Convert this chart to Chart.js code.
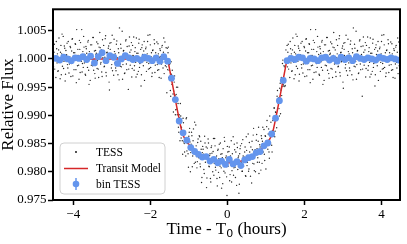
<!DOCTYPE html>
<html><head><meta charset="utf-8">
<script src="https://cdn.jsdelivr.net/npm/chart.js@4"></script>
<style>html,body{margin:0;padding:0;background:#fff}</style>
</head><body>
<canvas id="c" width="407" height="244" style="display:block;width:407px;height:244px"></canvas>
<script>
// ---- data ----
const tessTime = [
-4.50,-4.48,-4.46,-4.44,-4.42,-4.40,-4.38,-4.36,-4.34,-4.32,-4.30,-4.28,-4.26,-4.24,-4.22,-4.20,-4.18,-4.16,-4.14,-4.12,
-4.10,-4.08,-4.06,-4.04,-4.02,-4.00,-3.98,-3.96,-3.94,-3.92,-3.90,-3.88,-3.86,-3.84,-3.82,-3.80,-3.78,-3.76,-3.74,-3.72,
-3.70,-3.68,-3.66,-3.64,-3.62,-3.60,-3.58,-3.56,-3.54,-3.52,-3.50,-3.48,-3.46,-3.44,-3.42,-3.40,-3.38,-3.36,-3.34,-3.32,
-3.30,-3.28,-3.26,-3.24,-3.22,-3.20,-3.18,-3.16,-3.14,-3.12,-3.10,-3.08,-3.06,-3.04,-3.02,-3.00,-2.98,-2.96,-2.94,-2.92,
-2.90,-2.88,-2.86,-2.84,-2.82,-2.80,-2.78,-2.76,-2.74,-2.72,-2.70,-2.68,-2.66,-2.64,-2.62,-2.60,-2.58,-2.56,-2.54,-2.52,
-2.50,-2.48,-2.46,-2.44,-2.42,-2.40,-2.38,-2.36,-2.34,-2.32,-2.30,-2.28,-2.26,-2.24,-2.22,-2.20,-2.18,-2.16,-2.14,-2.12,
-2.10,-2.08,-2.06,-2.04,-2.02,-2.00,-1.98,-1.96,-1.94,-1.92,-1.90,-1.88,-1.86,-1.84,
-1.82,-1.80,-1.78,-1.76,-1.74,-1.72,-1.70,-1.68,-1.66,-1.64,-1.62,-1.60,-1.58,-1.56,
-1.54,-1.52,-1.50,-1.48,-1.46,-1.44,-1.42,-1.40,-1.38,-1.36,-1.34,-1.32,-1.30,-1.28,-1.26,-1.24,-1.22,-1.20,-1.18,-1.16,
-1.14,-1.12,-1.10,-1.08,-1.06,-1.04,-1.02,-1.00,-0.98,-0.96,-0.94,-0.92,-0.90,-0.88,-0.86,-0.84,-0.82,-0.80,-0.78,-0.76,
-0.74,-0.72,-0.70,-0.68,-0.66,-0.64,-0.62,-0.60,-0.58,-0.56,-0.54,-0.52,-0.50,-0.48,-0.46,-0.44,-0.42,-0.40,-0.38,-0.36,
-0.34,-0.32,-0.30,-0.28,-0.26,-0.24,-0.22,-0.20,-0.18,-0.16,-0.14,-0.12,-0.10,-0.08,-0.06,-0.04,-0.02,0.00,0.02,0.04,
0.06,0.08,0.10,0.12,0.14,0.16,0.18,0.20,0.22,0.24,0.26,0.28,0.30,0.32,0.34,0.36,0.38,0.40,0.42,0.44,
0.46,0.48,0.50,0.52,0.54,0.56,0.58,0.60,0.62,0.64,0.66,0.68,0.70,0.72,0.74,0.76,0.78,0.80,0.82,0.84,
0.86,0.88,0.90,0.92,0.94,0.96,0.98,1.00,1.02,1.04,1.06,1.08,1.10,1.12,1.14,1.16,1.18,1.20,1.22,1.24,
1.26,1.28,1.30,1.32,1.34,1.36,1.38,1.40,1.42,1.44,1.46,1.48,1.50,1.52,1.54,
1.56,1.58,1.60,1.62,1.64,1.66,1.68,1.70,1.72,1.74,1.76,1.78,1.80,1.82,1.84,1.86,1.88,1.90,1.92,1.94,
1.96,1.98,2.00,2.02,2.04,2.06,2.08,2.10,2.12,2.14,2.16,2.18,2.20,2.22,2.24,2.26,2.28,2.30,2.32,2.34,
2.36,2.38,2.40,2.42,2.44,2.46,2.48,2.50,2.52,2.54,2.56,2.58,2.60,2.62,2.64,2.66,2.68,2.70,2.72,2.74,
2.76,2.78,2.80,2.82,2.84,2.86,2.88,2.90,2.92,2.94,2.96,2.98,3.00,3.02,3.04,3.06,3.08,3.10,3.12,3.14,
3.16,3.18,3.20,3.22,3.24,3.26,3.28,3.30,3.32,3.34,3.36,3.38,3.40,3.42,3.44,3.46,3.48,3.50,3.52,3.54,
3.56,3.58,3.60,3.62,3.64,3.66,3.68,3.70,3.72,3.74,3.76,3.78,3.80,3.82,3.84,3.86,3.88,3.90,3.92,3.94,
3.96,3.98,4.00,4.02,4.04,4.06,4.08,4.10,4.12,4.14,4.16,4.18,4.20,4.22,4.24,4.26,4.28,
4.30,4.32,4.34,4.36,4.38,4.40,4.42,4.44,4.46,4.48
];
const tessFlux = [
1.0012,0.9982,1.0005,1.0031,0.9993,0.9978,1.0016,1.0002,0.9965,1.0024,1.0009,0.9987,1.0040,0.9996,1.0019,0.9973,1.0007,1.0028,0.9984,1.0003,
0.9991,1.0022,0.9969,1.0014,1.0036,0.9998,0.9981,1.0011,1.0026,0.9958,1.0006,1.0017,0.9989,1.0033,0.9976,1.0001,1.0052,0.9992,0.9985,1.0021,
1.0008,0.9971,1.0018,0.9995,1.0030,0.9980,1.0013,0.9962,1.0004,1.0025,0.9988,1.0038,0.9999,0.9974,1.0015,1.0010,0.9983,1.0027,0.9967,1.0006,
1.0020,0.9994,0.9977,1.0034,1.0009,0.9986,1.0003,1.0041,0.9970,1.0012,0.9997,1.0023,0.9945,1.0017,1.0029,0.9990,0.9979,1.0005,1.0035,0.9993,
0.9984,1.0026,1.0002,0.9972,1.0011,1.0055,0.9987,1.0019,0.9996,0.9964,1.0014,1.0007,0.9975,1.0032,0.9991,1.0022,1.0000,0.9982,1.0039,0.9989,
1.0016,0.9968,1.0024,1.0005,0.9980,1.0013,0.9994,1.0037,0.9973,1.0010,1.0028,0.9985,1.0001,0.9952,1.0020,1.0008,0.9988,1.0031,0.9997,1.0018,
0.9978,1.0009,1.0042,0.9992,0.9983,1.0025,1.0004,0.9969,1.0015,0.9998,1.0034,0.9976,1.0011,1.0006,
0.9990,1.0027,0.9981,1.0003,1.0015,0.9966,1.0021,0.9994,1.0012,0.9974,1.0030,1.0001,0.9986,1.0019,
1.0011,0.9967,0.9990,0.9944,0.9995,0.9955,0.9965,0.9906,0.9959,0.9935,0.9910,0.9950,0.9901,0.9921,0.9870,0.9896,0.9921,0.9860,0.9872,0.9831,
0.9887,0.9850,0.9867,0.9828,0.9896,0.9850,0.9832,0.9863,0.9877,0.9800,0.9849,0.9864,0.9828,0.9876,0.9815,0.9839,0.9883,0.9827,0.9818,0.9858,
0.9825,0.9862,0.9809,0.9840,0.9790,0.9845,0.9831,0.9797,0.9851,0.9824,0.9772,0.9842,0.9858,0.9810,0.9829,0.9788,0.9843,0.9833,0.9800,0.9859,
0.9815,0.9846,0.9803,0.9828,0.9775,0.9840,0.9823,0.9790,0.9851,0.9807,0.9832,0.9779,0.9819,0.9861,0.9798,0.9825,0.9791,0.9845,0.9810,0.9836,
0.9784,0.9828,0.9855,0.9802,0.9817,0.9794,0.9849,0.9808,0.9835,0.9776,0.9843,0.9825,0.9762,0.9832,0.9846,0.9817,0.9801,0.9857,0.9810,0.9826,
0.9844,0.9792,0.9838,0.9817,0.9867,0.9805,0.9835,0.9792,0.9830,0.9854,0.9815,0.9877,0.9802,0.9839,0.9831,0.9866,0.9817,0.9854,0.9797,0.9848,
0.9831,0.9864,0.9815,0.9879,0.9846,0.9831,0.9864,0.9805,0.9880,0.9850,0.9867,0.9835,0.9899,0.9851,0.9869,0.9835,0.9891,0.9872,0.9913,0.9872,
0.9905,0.9878,0.9944,0.9921,0.9912,0.9948,0.9903,0.9967,0.9951,0.9998,0.9952,0.9986,0.9953,1.0016,0.9996,
0.9986,1.0026,1.0003,0.9967,1.0018,1.0009,0.9979,1.0037,0.9994,1.0012,0.9972,1.0044,1.0001,0.9983,1.0023,0.9961,1.0015,1.0007,0.9990,1.0031,
0.9975,1.0004,1.0020,0.9992,1.0035,0.9970,1.0011,0.9998,1.0027,0.9981,1.0052,0.9988,1.0006,0.9964,1.0017,1.0029,0.9996,0.9977,1.0013,1.0040,
0.9993,0.9973,1.0022,1.0010,0.9985,1.0033,0.9955,1.0005,1.0025,0.9989,1.0000,1.0038,0.9980,1.0014,0.9966,1.0008,1.0030,0.9997,0.9982,1.0021,
1.0047,0.9991,1.0016,0.9969,1.0002,1.0024,0.9987,1.0036,0.9976,1.0011,0.9995,1.0019,0.9959,1.0028,1.0006,0.9984,1.0042,0.9999,0.9971,1.0013,
1.0009,0.9979,1.0032,0.9993,1.0018,0.9963,1.0004,1.0026,0.9986,1.0049,0.9990,1.0015,0.9974,1.0001,1.0034,0.9981,1.0008,0.9934,1.0023,1.0012,
0.9997,1.0029,0.9983,1.0006,1.0039,0.9988,1.0020,0.9968,1.0010,1.0003,0.9978,1.0035,0.9992,1.0017,0.9972,1.0025,0.9999,1.0014,0.9962,1.0007,
1.0021,0.9994,1.0031,0.9982,1.0002,1.0043,0.9985,1.0011,0.9975,1.0016,0.9996,1.0027,0.9989,1.0005,1.0030,0.9980,1.0009,
0.9967,1.0018,1.0004,0.9991,1.0024,0.9984,1.0037,1.0000,0.9988,1.0020
];
// second (interleaved) set of unbinned TESS cadences
const tessTimeB = [
-4.51,-4.49,-4.47,-4.45,-4.43,-4.41,-4.39,-4.37,-4.35,-4.33,-4.31,-4.29,-4.27,-4.25,-4.23,-4.21,-4.19,-4.17,-4.15,-4.13,
-4.11,-4.09,-4.07,-4.05,-4.03,-4.01,-3.99,-3.97,-3.95,-3.93,-3.91,-3.89,-3.87,-3.85,-3.83,-3.81,-3.79,-3.77,-3.75,-3.73,
-3.71,-3.69,-3.67,-3.65,-3.63,-3.61,-3.59,-3.57,-3.55,-3.53,-3.51,-3.49,-3.47,-3.45,-3.43,-3.41,-3.39,-3.37,-3.35,-3.33,
-3.31,-3.29,-3.27,-3.25,-3.23,-3.21,-3.19,-3.17,-3.15,-3.13,-3.11,-3.09,-3.07,-3.05,-3.03,-3.01,-2.99,-2.97,-2.95,-2.93,
-2.91,-2.89,-2.87,-2.85,-2.83,-2.81,-2.79,-2.77,-2.75,-2.73,-2.71,-2.69,-2.67,-2.65,-2.63,-2.61,-2.59,-2.57,-2.55,-2.53,
-2.51,-2.49,-2.47,-2.45,-2.43,-2.41,-2.39,-2.37,-2.35,-2.33,-2.31,-2.29,-2.27,-2.25,-2.23,-2.21,-2.19,-2.17,-2.15,-2.13,
-2.11,-2.09,-2.07,-2.05,-2.03,-2.01,-1.99,-1.97,-1.95,-1.93,-1.91,-1.89,-1.87,-1.85,
-1.83,-1.81,-1.79,-1.77,-1.75,-1.73,-1.71,-1.69,-1.67,-1.65,-1.63,-1.61,-1.59,-1.57,
-1.55,-1.53,-1.51,-1.49,-1.47,-1.45,-1.43,-1.41,-1.39,-1.37,-1.35,-1.33,-1.31,-1.29,-1.27,-1.25,-1.23,-1.21,-1.19,-1.17,
-1.15,-1.13,-1.11,-1.09,-1.07,-1.05,-1.03,-1.01,-0.99,-0.97,-0.95,-0.93,-0.91,-0.89,-0.87,-0.85,-0.83,-0.81,-0.79,-0.77,
-0.75,-0.73,-0.71,-0.69,-0.67,-0.65,-0.63,-0.61,-0.59,-0.57,-0.55,-0.53,-0.51,-0.49,-0.47,-0.45,-0.43,-0.41,-0.39,-0.37,
-0.35,-0.33,-0.31,-0.29,-0.27,-0.25,-0.23,-0.21,-0.19,-0.17,-0.15,-0.13,-0.11,-0.09,-0.07,-0.05,-0.03,-0.01,0.01,0.03,
0.05,0.07,0.09,0.11,0.13,0.15,0.17,0.19,0.21,0.23,0.25,0.27,0.29,0.31,0.33,0.35,0.37,0.39,0.41,0.43,
0.45,0.47,0.49,0.51,0.53,0.55,0.57,0.59,0.61,0.63,0.65,0.67,0.69,0.71,0.73,0.75,0.77,0.79,0.81,0.83,
0.85,0.87,0.89,0.91,0.93,0.95,0.97,0.99,1.01,1.03,1.05,1.07,1.09,1.11,1.13,1.15,1.17,1.19,1.21,1.23,
1.25,1.27,1.29,1.31,1.33,1.35,1.37,1.39,1.41,1.43,1.45,1.47,1.49,1.51,1.53,1.55,
1.57,1.59,1.61,1.63,1.65,1.67,1.69,1.71,1.73,1.75,1.77,1.79,1.81,1.83,1.85,1.87,1.89,1.91,1.93,1.95,
1.97,1.99,2.01,2.03,2.05,2.07,2.09,2.11,2.13,2.15,2.17,2.19,2.21,2.23,2.25,2.27,2.29,2.31,2.33,2.35,
2.37,2.39,2.41,2.43,2.45,2.47,2.49,2.51,2.53,2.55,2.57,2.59,2.61,2.63,2.65,2.67,2.69,2.71,2.73,2.75,
2.77,2.79,2.81,2.83,2.85,2.87,2.89,2.91,2.93,2.95,2.97,2.99,3.01,3.03,3.05,3.07,3.09,3.11,3.13,3.15,
3.17,3.19,3.21,3.23,3.25,3.27,3.29,3.31,3.33,3.35,3.37,3.39,3.41,3.43,3.45,3.47,3.49,3.51,3.53,3.55,
3.57,3.59,3.61,3.63,3.65,3.67,3.69,3.71,3.73,3.75,3.77,3.79,3.81,3.83,3.85,3.87,3.89,3.91,3.93,3.95,
3.97,3.99,4.01,4.03,4.05,4.07,4.09,4.11,4.13,4.15,4.17,4.19,4.21,4.23,4.25,4.27,4.29,4.31,4.33,4.35,
4.37,4.39,4.41,4.43,4.45,4.47
];
const tessFluxB = [
0.9986,1.0026,1.0003,0.9967,1.0018,1.0009,0.9979,1.0037,0.9994,1.0012,0.9972,1.0044,1.0001,0.9983,1.0023,0.9961,1.0015,1.0007,0.9990,1.0031,
0.9975,1.0004,1.0020,0.9992,1.0035,0.9970,1.0011,0.9998,1.0027,0.9981,1.0052,0.9988,1.0006,0.9964,1.0017,1.0029,0.9996,0.9977,1.0013,1.0040,
0.9993,0.9973,1.0022,1.0010,0.9985,1.0033,0.9955,1.0005,1.0025,0.9989,1.0000,1.0038,0.9980,1.0014,0.9966,1.0008,1.0030,0.9997,0.9982,1.0021,
1.0047,0.9991,1.0016,0.9969,1.0002,1.0024,0.9987,1.0036,0.9976,1.0011,0.9995,1.0019,0.9959,1.0028,1.0006,0.9984,1.0042,0.9999,0.9971,1.0013,
1.0009,0.9979,1.0032,0.9993,1.0018,0.9963,1.0004,1.0026,0.9986,1.0049,0.9990,1.0015,0.9974,1.0001,1.0034,0.9981,1.0008,0.9946,1.0023,1.0012,
0.9997,1.0029,0.9983,1.0006,1.0039,0.9988,1.0020,0.9968,1.0010,1.0003,0.9978,1.0035,0.9992,1.0017,0.9972,1.0025,0.9999,1.0014,0.9962,1.0007,
1.0021,0.9994,1.0031,0.9982,1.0002,1.0043,0.9985,1.0011,0.9975,1.0016,0.9996,1.0027,0.9989,1.0005,
1.0030,0.9980,1.0009,0.9967,1.0018,1.0004,0.9991,1.0024,0.9984,1.0037,1.0000,0.9988,1.0020,0.9940,
0.9981,1.0021,0.9980,0.9992,0.9934,0.9973,0.9980,0.9938,0.9943,0.9970,0.9901,0.9937,0.9911,0.9950,0.9879,0.9901,0.9855,0.9899,0.9879,0.9855,
0.9895,0.9853,0.9835,0.9869,0.9894,0.9837,0.9855,0.9808,0.9870,0.9853,0.9834,0.9870,0.9809,0.9855,0.9838,0.9888,0.9817,0.9846,0.9807,0.9852,
0.9827,0.9864,0.9814,0.9854,0.9781,0.9834,0.9840,0.9804,0.9863,0.9817,0.9844,0.9789,0.9825,0.9851,0.9809,0.9832,0.9782,0.9846,0.9818,0.9836,
0.9794,0.9859,0.9808,0.9822,0.9788,0.9838,0.9799,0.9849,0.9810,0.9831,0.9771,0.9825,0.9841,0.9801,0.9854,0.9812,0.9828,0.9758,0.9835,0.9819,
0.9844,0.9795,0.9823,0.9782,0.9832,0.9862,0.9807,0.9839,0.9790,0.9818,0.9851,0.9804,0.9828,0.9778,0.9841,0.9813,0.9850,0.9801,0.9828,0.9820,
0.9835,0.9793,0.9862,0.9811,0.9829,0.9801,0.9852,0.9823,0.9844,0.9780,0.9839,0.9865,0.9814,0.9832,0.9800,0.9856,0.9841,0.9825,0.9879,0.9817,
0.9844,0.9803,0.9859,0.9854,0.9835,0.9875,0.9820,0.9863,0.9848,0.9891,0.9840,0.9876,0.9824,0.9868,0.9888,0.9847,0.9873,0.9863,0.9913,0.9862,
0.9906,0.9895,0.9934,0.9894,0.9931,0.9899,0.9957,0.9945,0.9935,0.9992,0.9955,0.9988,0.9951,0.9994,0.9993,1.0024,
1.0012,0.9982,1.0005,1.0031,0.9993,0.9978,1.0016,1.0002,0.9965,1.0024,1.0009,0.9987,1.0040,0.9996,1.0019,0.9973,1.0007,1.0028,0.9984,1.0003,
0.9991,1.0022,0.9969,1.0014,1.0036,0.9998,0.9981,1.0011,1.0026,0.9958,1.0006,1.0017,0.9989,1.0033,0.9976,1.0001,1.0052,0.9992,0.9985,1.0021,
1.0008,0.9971,1.0018,0.9995,1.0030,0.9980,1.0013,0.9962,1.0004,1.0025,0.9988,1.0038,0.9999,0.9974,1.0015,1.0010,0.9983,1.0027,0.9967,1.0006,
1.0020,0.9994,0.9977,1.0034,1.0009,0.9986,1.0003,1.0041,0.9970,1.0012,0.9997,1.0023,0.9948,1.0017,1.0029,0.9990,0.9979,1.0005,1.0035,0.9993,
0.9984,1.0026,1.0002,0.9972,1.0011,1.0055,0.9987,1.0019,0.9996,0.9964,1.0014,1.0007,0.9975,1.0032,0.9991,1.0022,1.0000,0.9982,1.0039,0.9989,
1.0016,0.9968,1.0024,1.0005,0.9980,1.0013,0.9994,1.0037,0.9973,1.0010,1.0028,0.9985,1.0001,0.9952,1.0020,1.0008,0.9988,1.0031,0.9997,1.0018,
0.9978,1.0009,1.0042,0.9992,0.9983,1.0025,1.0004,0.9969,1.0015,0.9998,1.0034,0.9976,1.0011,1.0006,0.9990,1.0027,0.9981,1.0003,1.0015,0.9966,
1.0021,0.9994,1.0012,0.9974,1.0030,1.0001
];
const modelTime = [-4.6,-1.55,-1.5,-1.45,-1.4,-1.35,-1.3,-1.25,-1.2,-1.16,-1.1,-1.0,-0.9,-0.8,-0.7,-0.6,-0.5,-0.4,-0.3,-0.2,-0.1,0,0.1,0.2,0.3,0.4,0.5,0.6,0.7,0.8,0.9,1.0,1.1,1.16,1.2,1.25,1.3,1.35,1.4,1.45,1.5,1.55,4.6];
const modelFlux = [1.0,1.0,0.9982,0.9964,0.9946,0.9928,0.9910,0.9893,0.9877,0.9866,0.9858,0.9849,0.9841,0.9835,0.9830,0.9826,0.9823,0.9820,0.9818,0.9817,0.9816,0.9816,0.9816,0.9817,0.9818,0.9820,0.9823,0.9826,0.9830,0.9835,0.9841,0.9849,0.9858,0.9866,0.9877,0.9893,0.9910,0.9928,0.9946,0.9964,0.9982,1.0,1.0];
const binTime = [
-4.45,-4.35,-4.25,-4.15,-4.05,-3.95,-3.85,-3.75,-3.65,-3.55,
-3.45,-3.35,-3.25,-3.15,-3.05,-2.95,-2.85,-2.75,-2.65,-2.55,
-2.45,-2.35,-2.25,-2.15,-2.05,-1.95,-1.85,-1.75,-1.65,-1.55,
-1.45,-1.35,-1.25,-1.15,-1.05,-0.95,-0.85,-0.75,-0.65,-0.55,
-0.45,-0.35,-0.25,-0.15,-0.05,0.05,0.15,0.25,0.35,0.45,
0.55,0.65,0.75,0.85,0.95,1.05,1.15,1.25,1.35,1.45,
1.55,1.65,1.75,1.85,1.95,2.05,2.15,2.25,2.35,2.45,
2.55,2.65,2.75,2.85,2.95,3.05,3.15,3.25,3.35,3.45,
3.55,3.65,3.75,3.85,3.95,4.05,4.15,4.25,4.35,4.45];
const binFlux = [
1.0001,0.9998,1.0003,1.0000,0.9997,1.0002,1.0001,1.0004,0.9999,1.0005,
0.9993,1.0004,1.0011,0.9997,1.0006,1.0003,0.9992,1.0000,1.0006,1.0002,
0.9999,1.0001,0.9998,1.0003,1.0001,0.9997,1.0002,0.9996,1.0004,0.9996,
0.9966,0.9928,0.9890,0.9869,0.9856,0.9843,0.9836,0.9831,0.9826,0.9827,
0.9819,0.9822,0.9816,0.9819,0.9813,0.9822,0.9814,0.9818,0.9811,0.9821,
0.9825,0.9827,0.9834,0.9836,0.9846,0.9851,0.9867,0.9895,0.9926,0.9962,
0.9997,1.0001,0.9999,1.0003,1.0002,0.9996,1.0001,1.0000,0.9997,1.0002,
1.0003,0.9998,1.0001,0.9996,1.0003,0.9999,1.0002,0.9997,1.0004,1.0001,
0.9999,1.0002,1.0000,0.9998,1.0003,1.0001,0.9999,1.0002,1.0000,0.9998];
const xTicks = [-4, -2, 0, 2, 4];
const yTicks = [0.975, 0.980, 0.985, 0.990, 0.995, 1.000, 1.005];
const legendLabels = ['TESS', 'Transit Model', 'bin TESS'];

// ---- chart ----
const SERIF = "'Liberation Serif', 'Times New Roman', serif";
const BLUE = '#6495ED', RED = '#d62728';
const pts = (xs, ys) => xs.map((x, i) => ({x, y: ys[i]}));

const framePlugin = {
  id: 'frame',
  afterDatasetsDraw(chart) {
    const {ctx, chartArea: a} = chart;
    ctx.save();
    ctx.strokeStyle = '#000'; ctx.lineWidth = 2;
    ctx.strokeRect(a.left, a.top, a.right - a.left, a.bottom - a.top);
    ctx.restore();
  }
};
const legendPlugin = {
  id: 'boxLegend',
  afterDraw(chart) {
    const ctx = chart.ctx;
    const bx = 60, by = 143, bw = 105, bh = 51, r = 4;
    ctx.save();
    ctx.beginPath();
    ctx.moveTo(bx + r, by); ctx.lineTo(bx + bw - r, by); ctx.arcTo(bx + bw, by, bx + bw, by + r, r);
    ctx.lineTo(bx + bw, by + bh - r); ctx.arcTo(bx + bw, by + bh, bx + bw - r, by + bh, r);
    ctx.lineTo(bx + r, by + bh); ctx.arcTo(bx, by + bh, bx, by + bh - r, r);
    ctx.lineTo(bx, by + r); ctx.arcTo(bx, by, bx + r, by, r); ctx.closePath();
    ctx.fillStyle = 'rgba(255,255,255,0.8)'; ctx.fill();
    ctx.strokeStyle = '#d0d0d0'; ctx.lineWidth = 1; ctx.stroke();
    const hx = 76, rows = [152, 168.5, 184];
    ctx.fillStyle = '#000'; ctx.beginPath(); ctx.arc(hx, rows[0], 0.9, 0, Math.PI * 2); ctx.fill();
    ctx.strokeStyle = RED; ctx.lineWidth = 1.5; ctx.beginPath(); ctx.moveTo(64, rows[1]); ctx.lineTo(88, rows[1]); ctx.stroke();
    ctx.strokeStyle = BLUE; ctx.lineWidth = 1.5; ctx.beginPath(); ctx.moveTo(hx, rows[2] - 6); ctx.lineTo(hx, rows[2] + 6); ctx.stroke();
    ctx.fillStyle = BLUE; ctx.beginPath(); ctx.arc(hx, rows[2], 3.3, 0, Math.PI * 2); ctx.fill();
    ctx.fillStyle = '#000'; ctx.font = '11.5px ' + SERIF; ctx.textBaseline = 'middle'; ctx.textAlign = 'left';
    legendLabels.forEach((t, i) => ctx.fillText(t, 96, rows[i] + 0.5));
    const a = chart.chartArea, cx = (a.left + a.right) / 2, base = 234;
    const f1 = '17px ' + SERIF, f2 = "11px 'DejaVu Sans', sans-serif";
    ctx.font = f1; const w1 = ctx.measureText('Time - T').width, w3 = ctx.measureText(' (hours)').width;
    ctx.font = f2; const w2 = ctx.measureText('0').width;
    const sx = cx - (w1 + w2 + w3) / 2;
    ctx.textBaseline = 'alphabetic';
    ctx.font = f1; ctx.fillText('Time - T', sx, base);
    ctx.font = f2; ctx.fillText('0', sx + w1, base + 3);
    ctx.font = f1; ctx.fillText(' (hours)', sx + w1 + w2, base);
    ctx.restore();
  }
};

new Chart(document.getElementById('c'), {
  type: 'scatter',
  data: {
    datasets: [
      { label: 'bin TESS', data: pts(binTime, binFlux), order: 0, pointRadius: 3.4, pointHoverRadius: 3.4,
        backgroundColor: BLUE, borderWidth: 0, pointStyle: 'circle' },
      { label: 'Transit Model', data: pts(modelTime, modelFlux), order: 1, showLine: true, pointRadius: 0,
        borderColor: RED, borderWidth: 1.5, fill: false, tension: 0 },
      { label: 'TESS', data: pts(tessTime, tessFlux).concat(pts(tessTimeB, tessFluxB)), order: 2,
        pointRadius: 0.7, pointHoverRadius: 0.7, backgroundColor: 'rgba(0,0,0,0.85)', borderWidth: 0 }
    ]
  },
  options: {
    responsive: false, animation: false, devicePixelRatio: 1,
    layout: { padding: { left: 0, right: 7, top: 5, bottom: 0 } },
    plugins: { legend: { display: false }, tooltip: { enabled: false } },
    scales: {
      x: {
        type: 'linear', min: -4.525, max: 4.48,
        afterFit(s) { s.height = 44; },
        afterBuildTicks(s) { s.ticks = xTicks.map(v => ({value: v})); },
        ticks: { includeBounds: false, padding: 2, color: '#000', font: { family: SERIF, size: 13 },
          callback: v => (v < 0 ? '\u2212' + Math.abs(v) : String(v)) },
        grid: { display: true, drawOnChartArea: false, drawTicks: true, tickLength: 5, tickWidth: 1.5, tickColor: '#000' },
        border: { display: false },
        title: { display: false }
      },
      y: {
        type: 'linear', min: 0.975, max: 1.0088,
        afterFit(s) { s.width = 53; },
        afterBuildTicks(s) { s.ticks = yTicks.map(v => ({value: v})); },
        ticks: { includeBounds: false, padding: 1.5, color: '#000', font: { family: SERIF, size: 13 },
          callback: v => Number(v).toFixed(3) },
        grid: { display: true, drawOnChartArea: false, drawTicks: true, tickLength: 5, tickWidth: 1.5, tickColor: '#000' },
        border: { display: false },
        title: { display: true, text: 'Relative Flux', color: '#000', padding: { top: 0, bottom: 0 },
          font: { family: SERIF, size: 17, lineHeight: 1.0 } }
      }
    }
  },
  plugins: [framePlugin, legendPlugin]
});
</script>
</body></html>
